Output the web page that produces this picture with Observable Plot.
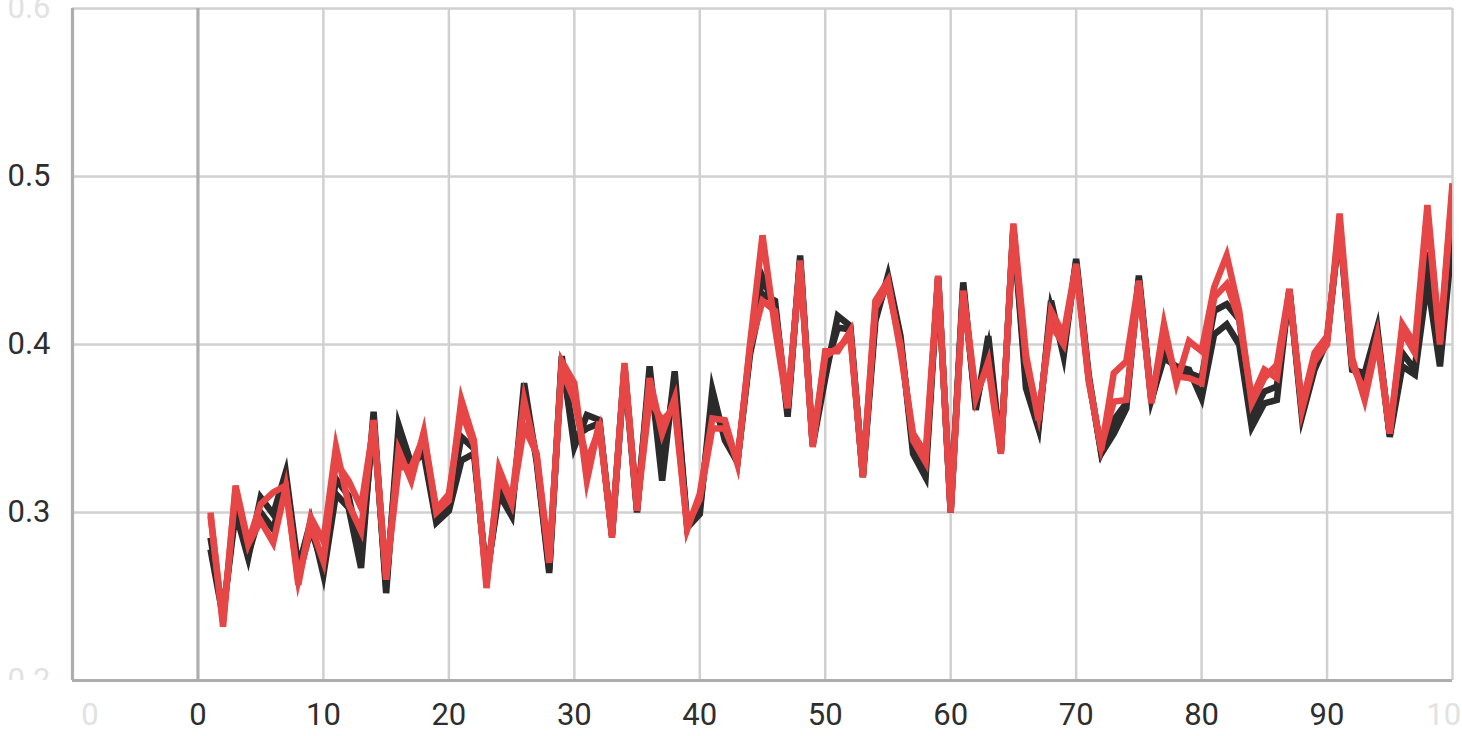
<!DOCTYPE html>
<html><head><meta charset="utf-8">
<script src="https://cdn.jsdelivr.net/npm/d3@7"></script>
<script src="https://cdn.jsdelivr.net/npm/@observablehq/plot@0.6"></script>
<style>
html,body{margin:0;padding:0;background:#fff;overflow:hidden;width:1462px;height:736px;}
#chart{width:1462px;height:736px;overflow:hidden;}
</style></head><body><div id="chart"></div>
<script>
const steps = d3.range(1, 101);

const redA = [
0.300,0.232,0.316,0.282,0.305,0.312,0.316,0.257,0.297,0.283,
0.339,0.305,0.289,0.355,0.260,0.337,0.319,0.348,0.300,0.307,
0.367,0.343,0.255,0.326,0.307,0.367,0.333,0.270,0.390,0.377,
0.319,0.354,0.285,0.389,0.301,0.380,0.347,0.368,0.290,0.311,
0.356,0.355,0.329,0.400,0.465,0.410,0.362,0.450,0.339,0.396,
0.396,0.408,0.321,0.426,0.438,0.396,0.347,0.335,0.441,0.300,
0.432,0.371,0.387,0.335,0.472,0.394,0.355,0.420,0.406,0.448,
0.380,0.337,0.383,0.390,0.438,0.365,0.412,0.377,0.402,0.396,
0.434,0.453,0.420,0.365,0.380,0.388,0.433,0.361,0.390,0.400,
0.478,0.392,0.367,0.402,0.347,0.412,0.400,0.483,0.402,0.496];

const redB = [
0.298,0.235,0.314,0.281,0.295,0.282,0.315,0.260,0.292,0.271,
0.330,0.319,0.303,0.352,0.262,0.327,0.327,0.345,0.302,0.311,
0.360,0.340,0.258,0.322,0.305,0.351,0.335,0.272,0.385,0.367,
0.330,0.350,0.288,0.386,0.303,0.367,0.355,0.362,0.292,0.308,
0.350,0.350,0.331,0.398,0.426,0.420,0.365,0.447,0.342,0.393,
0.398,0.405,0.323,0.422,0.435,0.400,0.343,0.330,0.439,0.302,
0.430,0.368,0.390,0.337,0.468,0.390,0.358,0.412,0.400,0.445,
0.378,0.339,0.366,0.367,0.435,0.368,0.405,0.381,0.380,0.377,
0.428,0.436,0.415,0.368,0.385,0.380,0.431,0.364,0.395,0.405,
0.470,0.388,0.372,0.405,0.349,0.408,0.395,0.478,0.400,0.492];

const blackA = [
0.285,0.240,0.300,0.273,0.309,0.299,0.324,0.267,0.295,0.263,
0.311,0.303,0.267,0.360,0.252,0.352,0.329,0.335,0.294,0.301,
0.331,0.335,0.262,0.311,0.298,0.377,0.330,0.264,0.393,0.339,
0.358,0.355,0.286,0.385,0.300,0.387,0.319,0.384,0.291,0.299,
0.373,0.343,0.330,0.394,0.430,0.426,0.357,0.453,0.340,0.380,
0.417,0.411,0.321,0.414,0.441,0.405,0.335,0.321,0.440,0.301,
0.437,0.361,0.405,0.336,0.470,0.374,0.350,0.426,0.393,0.451,
0.382,0.335,0.347,0.362,0.441,0.367,0.392,0.387,0.385,0.368,
0.406,0.412,0.400,0.351,0.365,0.367,0.433,0.357,0.385,0.402,
0.470,0.385,0.383,0.410,0.345,0.387,0.382,0.438,0.387,0.464];

const blackB = [
0.278,0.238,0.305,0.275,0.300,0.290,0.318,0.262,0.290,0.268,
0.320,0.310,0.275,0.355,0.256,0.345,0.325,0.340,0.297,0.305,
0.345,0.338,0.260,0.315,0.300,0.370,0.332,0.266,0.390,0.345,
0.350,0.353,0.287,0.387,0.302,0.382,0.330,0.378,0.293,0.303,
0.365,0.346,0.330,0.396,0.440,0.422,0.360,0.450,0.341,0.385,
0.410,0.409,0.322,0.418,0.438,0.402,0.340,0.326,0.440,0.300,
0.434,0.364,0.398,0.336,0.469,0.380,0.352,0.422,0.397,0.449,
0.380,0.336,0.355,0.365,0.439,0.366,0.398,0.384,0.383,0.380,
0.420,0.424,0.415,0.358,0.372,0.375,0.432,0.360,0.388,0.403,
0.472,0.387,0.378,0.407,0.346,0.395,0.385,0.455,0.393,0.478];

const seriesNames = ["black B", "black A", "red B", "red A"];
const seriesValues = [blackB, blackA, redB, redA];
const seriesColors = ["#2b2b2b", "#2b2b2b", "#e64646", "#e64646"];

const xDomain = [-10, 100];
const yDomain = [0.2, 0.6];
const xTicks = [-10, 0, 10, 20, 30, 40, 50, 60, 70, 80, 90, 100];
const xTickLabels = ["\u221210", "0", "10", "20", "30", "40", "50", "60", "70", "80", "90", "100"];
const yTicks = [0.2, 0.3, 0.4, 0.5, 0.6];
const yTickLabels = ["0.2", "0.3", "0.4", "0.5", "0.6"];

const rows = [];
seriesNames.forEach((name, s) => {
  seriesValues[s].forEach((v, i) => rows.push({step: steps[i], value: v, series: name}));
});

const labelColor = (i, n) => (i === 0 || i === n - 1) ? "#e2e2e2" : "#2e2e2e";

const W = 1520, H = 736, mL = 72, mR = 68, mT = 8, mB = 56;

const chart = Plot.plot({
  width: W,
  height: H,
  marginLeft: mL,
  marginRight: mR,
  marginTop: mT,
  marginBottom: mB,
  x: {domain: xDomain, axis: null},
  y: {domain: yDomain, axis: null},
  color: {domain: seriesNames, range: seriesColors},
  style: {maxWidth: "none", background: "#fff", fontFamily: "Roboto, 'Helvetica Neue', Arial, sans-serif"},
  marks: [
    Plot.ruleX(xTicks.filter(d => d !== 0 && d !== xDomain[0]), {x: d => d, stroke: "#d0d0d0", strokeWidth: 2.5}),
    Plot.ruleY(yTicks.filter(d => d !== yDomain[0]), {y: d => d, stroke: "#d0d0d0", strokeWidth: 2.5}),
    Plot.ruleX(xTicks.filter(d => d === 0 || d === xDomain[0]), {x: d => d, stroke: "#adadad", strokeWidth: 3.2}),
    Plot.ruleY(yTicks.filter(d => d === yDomain[0]), {y: d => d, stroke: "#adadad", strokeWidth: 3.2}),
    Plot.line(rows, {x: "step", y: "value", z: "series", stroke: "series", strokeWidth: 6.5, strokeLinejoin: "miter", strokeMiterlimit: 6, strokeLinecap: "butt", clip: true}),
    Plot.text(xTicks, {x: d => d, text: (d, i) => xTickLabels[i], frameAnchor: "bottom", dy: 35, lineAnchor: "middle", textAnchor: "middle", fontSize: 31, fontWeight: 400, fill: (d, i) => labelColor(i, xTicks.length)}),
    Plot.text(yTicks, {y: d => d, text: (d, i) => yTickLabels[i], frameAnchor: "left", dx: -22, lineAnchor: "middle", textAnchor: "end", fontSize: 31, fontWeight: 400, fill: (d, i) => labelColor(i, yTicks.length)})
  ]
});

// The axis label panes clip their overflowing labels (x labels left of the plot corner, y labels below the x axis).
const svg = d3.select(chart);
const defs = svg.insert("defs", ":first-child");
defs.append("clipPath").attr("id", "clip-xlabels")
  .append("rect").attr("x", mL + 8).attr("y", H - mB).attr("width", W).attr("height", mB);
defs.append("clipPath").attr("id", "clip-ylabels")
  .append("rect").attr("x", 0).attr("y", -20).attr("width", mL).attr("height", H - mB + 20);
const textGroups = svg.selectAll('g[aria-label="text"]').nodes();
function wrapWithClip(node, id) {
  const wrapper = document.createElementNS("http://www.w3.org/2000/svg", "g");
  wrapper.setAttribute("clip-path", `url(#${id})`);
  node.parentNode.insertBefore(wrapper, node);
  wrapper.appendChild(node);
}
wrapWithClip(textGroups[0], "clip-xlabels");
wrapWithClip(textGroups[1], "clip-ylabels");

document.getElementById("chart").appendChild(chart);
</script>
</body></html>
